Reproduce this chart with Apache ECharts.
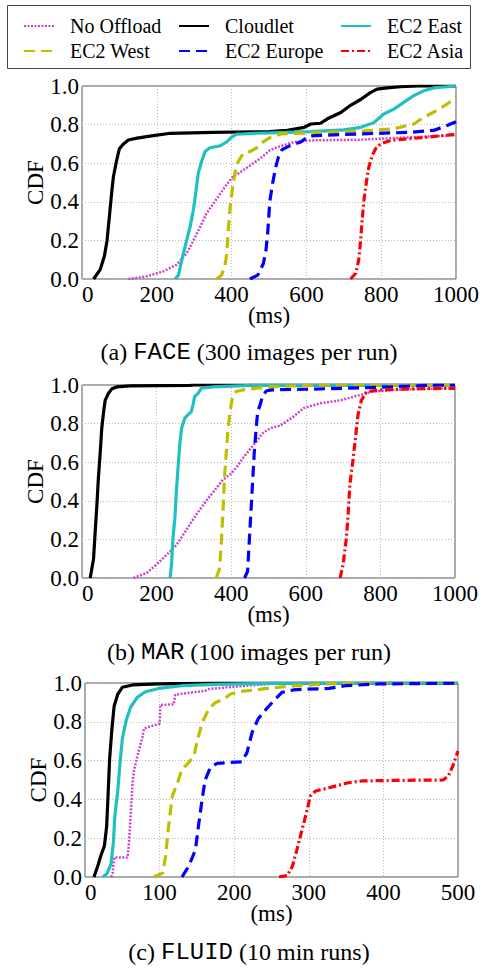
<!DOCTYPE html>
<html>
<head>
<meta charset="utf-8">
<title>CDF of response times</title>
<script src="https://cdn.jsdelivr.net/npm/echarts@6/dist/echarts.min.js"></script>
<style>
  html, body { margin: 0; padding: 0; background: #fff; }
  #chart { width: 483px; height: 968px; }
</style>
</head>
<body>
<div id="chart"></div>
<script>
// series names, in plotting order
const seriesNames = ['No Offload', 'Cloudlet', 'EC2 East', 'EC2 West', 'EC2 Europe', 'EC2 Asia'];

// (a) FACE: [ms, cdf]
const faceNoOffload = [[124,0],[173,0.014],[218,0.04],[253,0.074],[280,0.134],[298,0.2],[316,0.27],[333,0.34],[351,0.39],[369,0.44],[387,0.49],[404,0.53],[431,0.563],[458,0.6],[480,0.63],[502,0.666],[522,0.683],[567,0.71],[612,0.718],[745,0.722],[834,0.73],[1000,0.745]];
const faceCloudlet = [[31,0],[49,0.05],[60,0.12],[67,0.2],[74,0.34],[80,0.46],[84,0.53],[92,0.61],[100,0.675],[111,0.7],[124,0.72],[147,0.73],[191,0.743],[236,0.755],[351,0.76],[502,0.764],[549,0.77],[594,0.786],[612,0.803],[638,0.807],[656,0.83],[692,0.863],[718,0.9],[745,0.93],[772,0.967],[789,0.984],[816,0.99],[852,0.996],[900,1],[1000,1]];
const faceEast = [[249,0],[258,0.02],[267,0.1],[276,0.17],[289,0.27],[298,0.36],[305,0.46],[311,0.55],[320,0.61],[329,0.66],[342,0.68],[369,0.69],[387,0.71],[400,0.735],[413,0.75],[458,0.755],[502,0.757],[612,0.764],[700,0.773],[745,0.786],[780,0.81],[807,0.855],[834,0.88],[860,0.915],[887,0.95],[914,0.975],[940,0.99],[976,0.996],[1000,1]];
const faceWest = [[360,0],[373,0.02],[382,0.065],[387,0.13],[391,0.25],[396,0.37],[403,0.48],[409,0.55],[418,0.61],[431,0.65],[449,0.66],[467,0.68],[484,0.71],[505,0.735],[532,0.752],[612,0.757],[745,0.766],[834,0.778],[887,0.803],[914,0.838],[940,0.864],[976,0.906],[1000,0.945]];
const faceEurope = [[449,0],[470,0.02],[485,0.08],[492,0.15],[497,0.25],[502,0.4],[510,0.5],[518,0.58],[525,0.63],[535,0.67],[555,0.69],[585,0.71],[603,0.735],[620,0.743],[745,0.752],[878,0.76],[940,0.77],[976,0.795],[1000,0.815]];
const faceAsia = [[718,0],[732,0.03],[740,0.1],[745,0.2],[749,0.305],[754,0.41],[761,0.51],[767,0.58],[776,0.64],[785,0.675],[798,0.7],[825,0.718],[869,0.726],[923,0.735],[1000,0.75]];

// (b) MAR
const marNoOffload = [[138,0],[173,0.026],[200,0.07],[227,0.12],[253,0.17],[280,0.25],[307,0.33],[333,0.4],[360,0.465],[378,0.51],[396,0.535],[413,0.57],[431,0.62],[449,0.664],[467,0.707],[484,0.75],[505,0.776],[532,0.79],[567,0.836],[594,0.88],[638,0.905],[692,0.92],[745,0.948],[780,0.966],[834,0.974],[923,0.98],[1000,0.983]];
const marCloudlet = [[22,0],[31,0.1],[36,0.26],[40,0.38],[44,0.52],[49,0.655],[53,0.776],[58,0.862],[62,0.92],[71,0.957],[80,0.98],[93,0.99],[129,0.995],[289,0.998],[300,1],[1000,1]];
const marEast = [[236,0],[240,0.07],[244,0.21],[249,0.31],[253,0.45],[258,0.586],[262,0.69],[267,0.776],[276,0.83],[284,0.845],[293,0.862],[298,0.9],[302,0.94],[311,0.957],[320,0.983],[351,0.99],[436,0.997],[450,1],[1000,1]];
const marWest = [[360,0],[369,0.05],[373,0.17],[378,0.345],[382,0.52],[387,0.655],[391,0.76],[396,0.845],[400,0.9],[404,0.94],[413,0.966],[431,0.974],[467,0.983],[502,0.99],[600,0.998],[650,1],[1000,1]];
const marEurope = [[436,0],[444,0.035],[449,0.21],[453,0.345],[458,0.52],[462,0.655],[467,0.776],[471,0.862],[478,0.9],[485,0.95],[495,0.97],[510,0.975],[600,0.978],[745,0.985],[900,0.995],[930,1],[1000,1]];
const marAsia = [[692,0],[700,0.07],[709,0.21],[714,0.345],[718,0.48],[727,0.62],[734,0.74],[740,0.845],[749,0.92],[763,0.966],[798,0.974],[878,0.98],[1000,0.983]];

// (c) FLUID
const fluidNoOffload = [[35,0],[37,0.02],[39,0.1],[57,0.1],[59,0.176],[64,0.5],[66,0.555],[72,0.65],[77,0.72],[79,0.765],[84,0.772],[100,0.79],[101,0.887],[119,0.89],[121,0.94],[161,0.96],[166,0.969],[201,0.981],[246,0.995],[300,1],[500,1]];
const fluidCloudlet = [[12,0],[17,0.055],[21,0.107],[26,0.16],[29,0.26],[31,0.43],[33,0.607],[36,0.76],[39,0.88],[44,0.943],[50,0.978],[64,0.99],[99,0.995],[175,0.999],[200,1],[500,1]];
const fluidEast = [[24,0],[30,0.02],[35,0.07],[38,0.176],[40,0.314],[44,0.45],[47,0.59],[50,0.71],[55,0.805],[61,0.874],[70,0.926],[81,0.955],[99,0.972],[130,0.986],[175,0.993],[250,0.998],[300,1],[500,1]];
const fluidWest = [[92,0],[104,0.02],[108,0.107],[112,0.26],[117,0.417],[124,0.486],[130,0.555],[139,0.59],[146,0.624],[150,0.693],[157,0.797],[166,0.866],[175,0.9],[186,0.917],[195,0.943],[206,0.955],[232,0.966],[250,0.975],[282,0.986],[327,0.995],[360,1],[500,1]];
const fluidEurope = [[130,0],[139,0.055],[148,0.14],[152,0.26],[157,0.4],[161,0.5],[168,0.564],[177,0.586],[192,0.59],[210,0.593],[217,0.64],[224,0.745],[232,0.814],[243,0.866],[251,0.9],[264,0.952],[282,0.966],[327,0.972],[349,0.986],[393,0.995],[500,0.999]];
const fluidAsia = [[260,0],[271,0.007],[278,0.055],[284,0.14],[291,0.245],[298,0.35],[302,0.417],[309,0.443],[327,0.46],[353,0.486],[371,0.495],[415,0.498],[480,0.5],[487,0.52],[493,0.572],[500,0.65]];

const serif = "Liberation Serif, serif";
const mono = "Liberation Mono, monospace";

// colour / dash per series (matplotlib-ish)
const styles = {
  'No Offload': { color: '#cc44cc', width: 2.5, type: [2, 1.5] },
  'Cloudlet':   { color: '#000000', width: 3.2, type: 'solid' },
  'EC2 East':   { color: '#20c0c0', width: 3.2, type: 'solid' },
  'EC2 West':   { color: '#bfbf00', width: 3.2, type: [11, 6] },
  'EC2 Europe': { color: '#0000ff', width: 3.2, type: [11, 6] },
  'EC2 Asia':   { color: '#ff0000', width: 3.2, type: [8, 3, 2, 3] }
};

// the three stacked panels
const panels = [
  { data: [faceNoOffload, faceCloudlet, faceEast, faceWest, faceEurope, faceAsia],
    xMax: 1000, xStep: 200, grid: { left: 82, top: 86, width: 374, height: 193 },
    caption: ['(a) ', 'FACE', ' (300 images per run)'], captionY: 352 },
  { data: [marNoOffload, marCloudlet, marEast, marWest, marEurope, marAsia],
    xMax: 1000, xStep: 200, grid: { left: 82, top: 385, width: 373, height: 193 },
    caption: ['(b) ', 'MAR', ' (100 images per run)'], captionY: 652 },
  { data: [fluidNoOffload, fluidCloudlet, fluidEast, fluidWest, fluidEurope, fluidAsia],
    xMax: 500, xStep: 100, grid: { left: 85, top: 683, width: 373, height: 194 },
    caption: ['(c) ', 'FLUID', ' (10 min runs)'], captionY: 952 }
];

const splitLine = { show: true, lineStyle: { color: '#b8b8b8', type: [1, 2], width: 1 } };
const labelStyle = { fontFamily: serif, fontSize: 23, color: '#000' };

const option = {
  animation: false,
  backgroundColor: '#fff',
  textStyle: { fontFamily: serif },
  grid: panels.map(p => Object.assign({ show: true, borderColor: '#555', borderWidth: 1 }, p.grid)),
  xAxis: panels.map((p, i) => ({
    type: 'value', gridIndex: i, min: 0, max: p.xMax, interval: p.xStep,
    name: '(ms)', nameLocation: 'middle', nameGap: 25, nameMoveOverlap: false,
    nameTextStyle: labelStyle,
    axisLine: { show: false }, axisTick: { show: false },
    // "0" pushed right a little so it does not sit on top of "0.0"
    axisLabel: Object.assign({ margin: 4, alignMinLabel: 'left', formatter: v => String(v) }, labelStyle),
    splitLine: splitLine
  })),
  yAxis: panels.map((p, i) => ({
    type: 'value', gridIndex: i, min: 0, max: 1, interval: 0.2,
    name: 'CDF', nameLocation: 'middle', nameGap: 35, nameMoveOverlap: false,
    nameTextStyle: labelStyle,
    axisLine: { show: false }, axisTick: { show: false },
    axisLabel: Object.assign({ margin: 3, formatter: v => v.toFixed(1) }, labelStyle),
    splitLine: splitLine
  })),
  // legend split in three columns so the columns line up
  legend: [
    ['No Offload', 'EC2 West', 18],
    ['Cloudlet', 'EC2 Europe', 173],
    ['EC2 East', 'EC2 Asia', 335]
  ].map(col => ({
    orient: 'vertical', left: col[2], top: 11, itemGap: 5,
    itemWidth: 30, itemHeight: 14, selectedMode: false,
    data: [col[0], col[1]],
    itemStyle: { opacity: 0 },
    textStyle: { fontFamily: serif, fontSize: 20, color: '#000', lineHeight: 20, padding: [0, 0, 0, 11] }
  })),
  series: [],
  graphic: [
    { type: 'rect', shape: { x: 7.5, y: 5.5, width: 463, height: 63 },
      style: { fill: 'none', stroke: '#444', lineWidth: 1 }, silent: true }
  ]
};

panels.forEach((p, i) => {
  p.data.forEach((pts, k) => {
    const name = seriesNames[k];
    const s = styles[name];
    option.series.push({
      name: name, type: 'line', xAxisIndex: i, yAxisIndex: i,
      data: pts, showSymbol: false, symbol: 'none',
      itemStyle: { color: s.color },
      lineStyle: { color: s.color, width: s.width, type: s.type }
    });
  });
  // caption under each panel, with the program name in monospace
  option.graphic.push({
    type: 'text', x: 249, y: p.captionY, silent: true,
    style: {
      text: '{s|' + p.caption[0] + '}{m|' + p.caption[1] + '}{s|' + p.caption[2] + '}',
      rich: {
        s: { fontFamily: serif, fontSize: 24, fill: '#000' },
        m: { fontFamily: mono, fontSize: 24, fill: '#000' }
      },
      align: 'center', verticalAlign: 'middle'
    }
  });
});

const myChart = echarts.init(document.getElementById('chart'), null, { renderer: 'svg' });
myChart.setOption(option);
</script>
</body>
</html>
